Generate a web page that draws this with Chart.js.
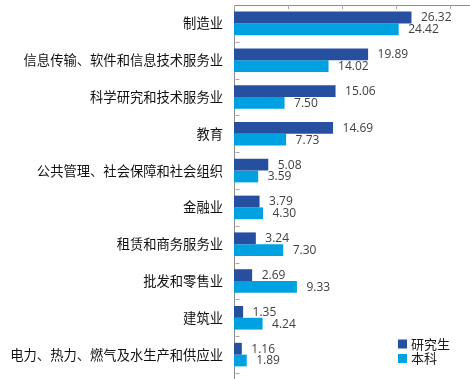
<!DOCTYPE html>
<html>
<head>
<meta charset="utf-8">
<script src="https://cdn.jsdelivr.net/npm/chart.js@4.4.1/dist/chart.umd.min.js"></script>
<style>
  html, body { margin: 0; padding: 0; background: #fff; }
  #wrap { width: 470px; height: 379px; position: relative; }
</style>
</head>
<body>
<div id="wrap"><canvas id="myChart"></canvas></div>
<script>
// DATA
const categories = [
  "制造业",
  "信息传输、软件和信息技术服务业",
  "科学研究和技术服务业",
  "教育",
  "公共管理、社会保障和社会组织",
  "金融业",
  "租赁和商务服务业",
  "批发和零售业",
  "建筑业",
  "电力、热力、燃气及水生产和供应业"
];
const graduateValues = [26.32, 19.89, 15.06, 14.69, 5.08, 3.79, 3.24, 2.69, 1.35, 1.16];
const undergradValues = [24.42, 14.02, 7.50, 7.73, 3.59, 4.30, 7.30, 9.33, 4.24, 1.89];
const seriesNames = ["研究生", "本科"];
const xTicks = [0, 8, 16, 24, 32];
const xMax = 35;

const darkBlue = "#26509f";
const lightBlue = "#00a1e1";
const axisGray = "#8c8c8c";

// value labels at the end of each bar
const valueLabels = {
  id: "valueLabels",
  afterDatasetsDraw(chart) {
    const ctx = chart.ctx;
    ctx.save();
    ctx.font = "12px 'Open Sans'";
    ctx.fillStyle = "#404040";
    ctx.textAlign = "left";
    ctx.textBaseline = "middle";
    chart.data.datasets.forEach((ds, i) => {
      chart.getDatasetMeta(i).data.forEach((bar, j) => {
        ctx.fillText(ds.data[j].toFixed(2), bar.x + 9.5, bar.y + 0.5);
      });
    });
    ctx.restore();
  }
};

// small inside tick marks on both axes
const axisTicks = {
  id: "axisTicks",
  afterDraw(chart) {
    const ctx = chart.ctx;
    const x = chart.scales.x;
    const y = chart.scales.y;
    const area = chart.chartArea;
    ctx.save();
    ctx.strokeStyle = "#a6a6a6";
    ctx.lineWidth = 1;
    ctx.beginPath();
    xTicks.forEach((v) => {
      const px = Math.round(x.getPixelForValue(v)) + 0.5;
      ctx.moveTo(px, area.top);
      ctx.lineTo(px, area.top + 4);
    });
    const step = (y.bottom - y.top) / categories.length;
    for (let i = 1; i <= categories.length; i++) {
      const py = Math.round(y.top + i * step) + 0.5;
      ctx.moveTo(area.left + 1.5, py);
      ctx.lineTo(area.left + 5.5, py);
    }
    ctx.stroke();
    // axis line continues to the bottom edge
    ctx.strokeStyle = axisGray;
    ctx.beginPath();
    ctx.moveTo(Math.round(area.left) + 0.5, area.bottom);
    ctx.lineTo(Math.round(area.left) + 0.5, chart.height);
    ctx.stroke();
    ctx.restore();
  }
};

// legend in the lower right corner
const cornerLegend = {
  id: "cornerLegend",
  afterDraw(chart) {
    const ctx = chart.ctx;
    ctx.save();
    ctx.font = "13px 'Noto Sans CJK SC'";
    ctx.textBaseline = "middle";
    ctx.textAlign = "left";
    chart.data.datasets.forEach((ds, i) => {
      const cy = 344 + i * 14.5;
      ctx.fillStyle = ds.backgroundColor;
      ctx.fillRect(398, cy - 4.5, 9, 9);
      ctx.fillStyle = "#1a1a1a";
      ctx.fillText(ds.label, 411, cy);
    });
    ctx.restore();
  }
};

new Chart(document.getElementById("myChart"), {
  type: "bar",
  data: {
    labels: categories,
    datasets: [
      { label: seriesNames[0], data: graduateValues, backgroundColor: darkBlue },
      { label: seriesNames[1], data: undergradValues, backgroundColor: lightBlue }
    ]
  },
  options: {
    indexAxis: "y",
    responsive: true,
    maintainAspectRatio: false,
    animation: false,
    layout: { padding: { top: 5, right: 0, bottom: 6, left: 0 } },
    datasets: { bar: { categoryPercentage: 0.64, barPercentage: 1.0 } },
    plugins: {
      legend: { display: false },
      tooltip: { enabled: false }
    },
    scales: {
      x: {
        position: "top",
        min: 0,
        max: xMax,
        grid: { display: false, drawTicks: false },
        border: { display: true, color: axisGray },
        ticks: { display: false }
      },
      y: {
        grid: { display: false, drawTicks: false },
        border: { display: true, color: axisGray },
        ticks: {
          padding: 11,
          color: "#111",
          font: { family: "'Noto Sans CJK SC'", size: 13.3 }
        },
        afterFit(scale) {
          scale.width = 234;
          scale.paddingTop = 0;
          scale.paddingBottom = 0;
        }
      }
    }
  },
  plugins: [valueLabels, axisTicks, cornerLegend]
});
</script>
</body>
</html>
